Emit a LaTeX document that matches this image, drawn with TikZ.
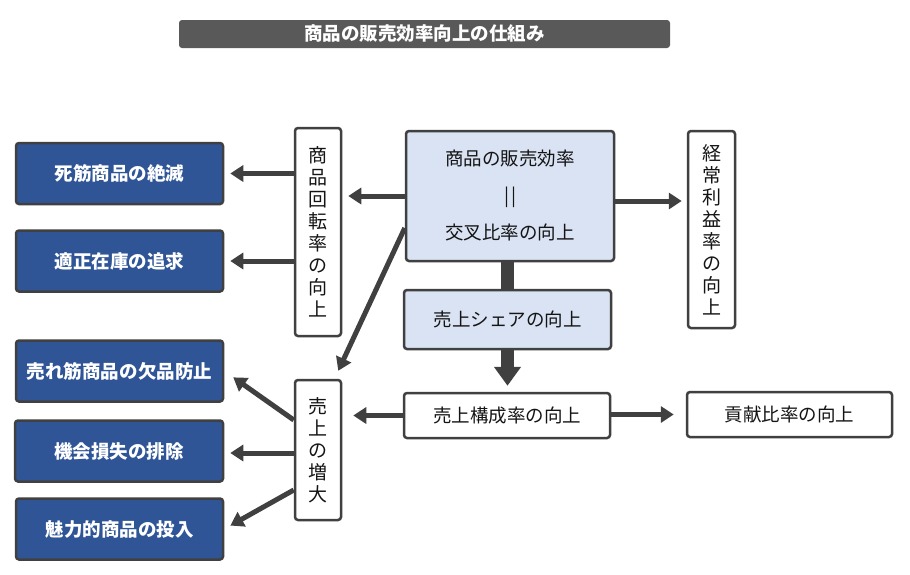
\documentclass[tikz,border=0pt]{standalone}
\usepackage{fontspec}
\setmainfont{Noto Sans CJK JP}
\usetikzlibrary{arrows.meta}
\definecolor{edge}{HTML}{404040}
\definecolor{darkblue}{HTML}{2F5597}
\definecolor{lightblue}{HTML}{DAE3F3}
\definecolor{titlegray}{HTML}{595959}
\definecolor{txt}{HTML}{141414}
\tikzset{
  box/.style={draw=edge, line width=2.5pt, rounded corners=3pt, inner sep=0pt, align=center, text=txt,
    font=\fontsize{18.5}{22}\selectfont},
  bluebox/.style={box, fill=darkblue, text=white, minimum width=207pt, minimum height=61pt,
    font=\fontsize{18.5}{22}\selectfont\bfseries},
  lightbox/.style={box, fill=lightblue},
  whitebox/.style={box, fill=white},
  vbox/.style={box, fill=white, font=\fontsize{19}{22}\selectfont},
  arr/.style={draw=edge, line width=5pt, -{Triangle[length=13pt,width=16pt]}},
  fatline/.style={draw=edge, line width=13pt},
  fatarr/.style={draw=edge, line width=13pt, -{Triangle[length=19pt,width=26pt]}},
}
\begin{document}
\begin{tikzpicture}[x=1pt,y=-1pt]
\fill[white] (0,0) rectangle (910,574);
\useasboundingbox (0,0) rectangle (910,574);

% title
\node[fill=titlegray, rounded corners=3pt, minimum width=491pt, minimum height=28pt, inner sep=0pt,
  text=white, font=\fontsize{18.5}{20}\selectfont\bfseries] (title) at (424.5,34) {商品の販売効率向上の仕組み};

% left blue boxes
\node[bluebox] (shikin) at (119.5,173.5) {死筋商品の絶滅};
\node[bluebox] (tekisei) at (119.5,261) {適正在庫の追求};
\node[bluebox] (ureuji) at (119.5,371) {売れ筋商品の欠品防止};
\node[bluebox, minimum width=208pt] (kikai) at (119,451) {機会損失の排除};
\node[bluebox] (miryoku) at (119.5,529) {魅力的商品の投入};

% vertical boxes
\node[vbox, minimum width=46pt, minimum height=208pt] (kaiten) at (318,232)
  {商\\品\\回\\転\\率\\の\\向\\上};
\node[vbox, minimum width=46pt, minimum height=140pt] (uriage) at (318,450)
  {売\\上\\の\\増\\大};
\node[vbox, minimum width=47pt, minimum height=197pt] (keijo) at (711.5,229.5)
  {経\\常\\利\\益\\率\\の\\向\\上};

% center boxes
\node[lightbox, minimum width=208pt, minimum height=130pt, font=\fontsize{18.5}{37}\selectfont] (center) at (510,196)
  {商品の販売効率\\|\kern2pt|\\交叉比率の向上};
\node[lightbox, minimum width=207pt, minimum height=59pt] (share) at (507.5,319.5) {売上シェアの向上};
\node[whitebox, minimum width=206pt, minimum height=45pt] (kosei) at (507,415.5) {売上構成率の向上};
\node[whitebox, minimum width=205pt, minimum height=45pt] (koken) at (789.5,414.5) {貢献比率の向上};

% connectors
\draw[arr, shorten >=6pt] (kaiten.west |- shikin.east) -- (shikin.east);
\draw[arr, shorten >=6pt] (kaiten.west |- tekisei.east) -- (tekisei.east);
\draw[arr, shorten >=6pt] (center.west) -- (center.west -| kaiten.east);
\draw[arr, shorten >=5pt] ([yshift=-5pt]center.east) -- ([yshift=-5pt]center.east -| keijo.west);
\draw[arr] ([yshift=-32pt]center.west) -- ([xshift=-4pt,yshift=8pt]uriage.north east);
\draw[fatline] (share.north |- center.south) -- (share.north);
\draw[fatarr, shorten >=6pt] (share.south) -- (share.south |- kosei.north);
\draw[arr, shorten >=11pt] (kosei.west) -- (kosei.west -| uriage.east);
\draw[arr, shorten >=12pt] ([yshift=1pt]kosei.east) -- ([yshift=1pt]kosei.east -| koken.west);
\draw[arr, shorten >=11pt] ([yshift=30pt]uriage.west) -- (ureuji.east);
\draw[arr, shorten >=6pt] ([yshift=-3pt]uriage.west) -- ([yshift=-3pt]uriage.west -| kikai.east);
\draw[arr, shorten >=7pt] ([yshift=-40pt]uriage.west) -- (miryoku.east);
\end{tikzpicture}
\end{document}
